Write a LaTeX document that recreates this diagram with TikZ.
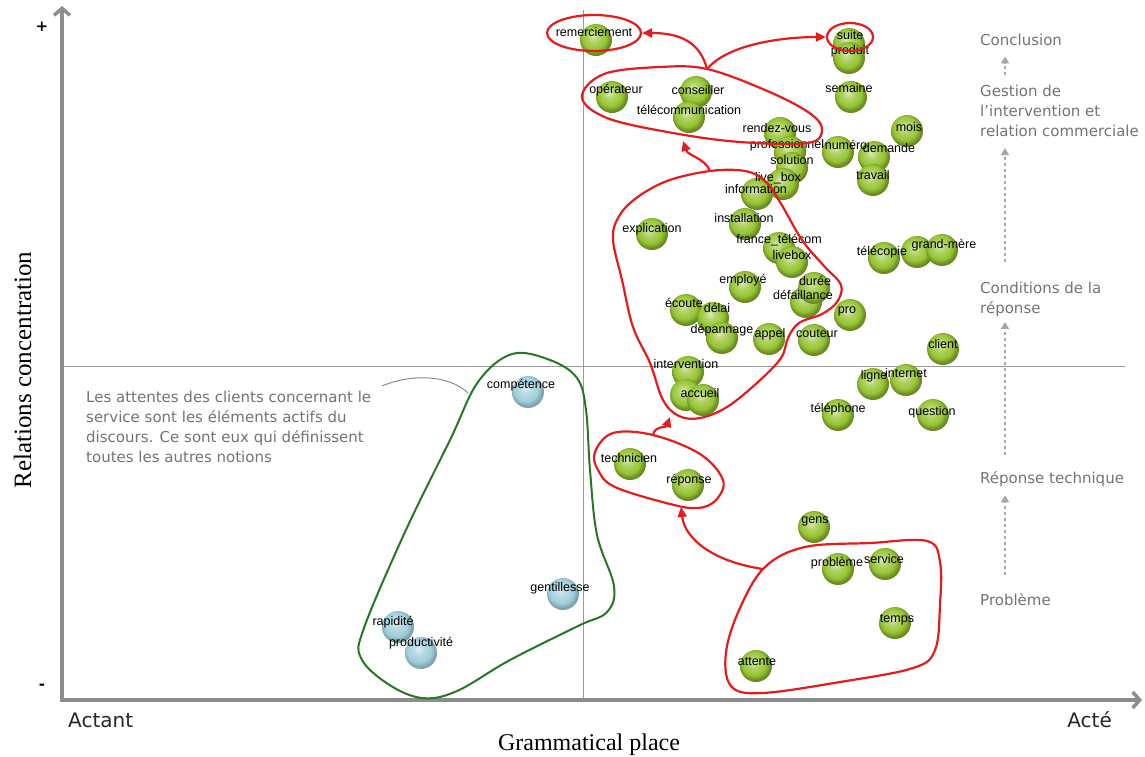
\documentclass[tikz,border=0pt]{standalone}
\usepackage{fontspec}
\setmainfont{Liberation Serif}
\newfontfamily\lblfont{Liberation Sans}
\newfontfamily\notefont{DejaVu Sans}
\usetikzlibrary{arrows.meta, shapes.geometric}

\definecolor{ballgreen}{RGB}{150,196,50}
\definecolor{ballblue}{RGB}{160,206,218}
\definecolor{grpred}{RGB}{228,28,28}
\definecolor{grpgreen}{RGB}{38,118,38}
\pgfdeclareradialshading{greenshade}{\pgfpoint{-5bp}{7bp}}{color(0bp)=(ballgreen!35!white);
  color(9bp)=(ballgreen!75!white); color(19bp)=(ballgreen); color(25bp)=(ballgreen!72!black);
  color(50bp)=(ballgreen!60!black)}
\pgfdeclareradialshading{blueshade}{\pgfpoint{-5bp}{7bp}}{color(0bp)=(ballblue!35!white);
  color(9bp)=(ballblue!75!white); color(19bp)=(ballblue); color(25bp)=(ballblue!80!black);
  color(50bp)=(ballblue!65!black)}

\begin{document}
\begin{tikzpicture}[x=1pt, y=-1pt,
  gball/.style={circle, minimum size=32pt, inner sep=0pt, shade, shading=greenshade},
  bball/.style={circle, minimum size=32pt, inner sep=0pt, shade, shading=blueshade},
  lbl/.style={font=\lblfont\fontsize{12.5}{12.5}\selectfont, inner sep=0pt},
  grp/.style={draw=grpred, line width=2.2pt},
  grparrow/.style={grpred, line width=2.2pt, -{Triangle[length=10pt,width=9pt]}},
  stage/.style={font=\notefont\fontsize{15}{20}\selectfont, text=black!55, inner sep=0pt, align=left},
  stagearrow/.style={black!35, line width=1.8pt, dash pattern=on 3pt off 3pt, -{Triangle[length=7pt,width=8pt]}},
  axlbl/.style={font=\notefont\fontsize{20}{20}\selectfont, text=black!85, inner sep=0pt}]
  \useasboundingbox (0,0) rectangle (1145,756);

  % axes
  \coordinate (o) at (62,700);
  \coordinate (ytop) at (62,6);
  \coordinate (xend) at (1142,700);
  \coordinate (vtop) at (583,10);
  \coordinate (vbot) at (583,700);
  \coordinate (hl) at (62,366);
  \coordinate (hr) at (1125,366);
  \draw[black!40, line width=0.9pt] (vtop) -- (vbot);
  \draw[black!40, line width=0.9pt] (hl) -- (hr);
  \draw[black!45, line width=3.5pt, {Straight Barb[length=7pt,width=16pt]}-{Straight Barb[length=7pt,width=16pt]}] (ytop) -- (o) -- (xend);

  \node[font=\notefont\bfseries\fontsize{15}{15}\selectfont] (plus) at (42,27) {+};
  \node[font=\notefont\bfseries\fontsize{15}{15}\selectfont] (minus) at (42,687) {-};
  \node[axlbl, anchor=base west] (actant) at (68,727) {Actant};
  \node[axlbl, anchor=base east] (acte) at (1112,727) {Acté};
  \node[font=\fontsize{24}{24}\selectfont, inner sep=0pt, anchor=base] (gplace) at (589,750) {Grammatical place};
  \node[font=\fontsize{25}{25}\selectfont, inner sep=0pt, anchor=base, rotate=90] (rconc) at (31,370) {Relations concentration};

  % balls: ball x / ball y / label x / label y / label
  \def\greenlist{596/40/594/32/remerciement, 849/44/850/35/suite, 849/58/850/51/produit,
    851/97/849/88/semaine, 612/97/616/90/opérateur, 696/92/698/90/conseiller,
    689/117/689/110/télécommunication, 907/131/909/127/mois, 780/133/777/128/rendez-vous,
    838/152/846/145/numéro, 790/152/787/145/professionnel, 874/157/889/148/demande,
    792/168/792/160/solution, 783/184/778/178/live\_box, 873/180/873/175/travail,
    757/194/756/189/information, 745/224/744/218/installation, 652/234/652/229/explication,
    779/248/779/240/france\_télécom, 792/262/792/255/livebox, 884/258/882/252/télécopie,
    917/252/917/252/, 942/250/944/245/grand-mère, 745/287/743/280/employé,
    806/302/803/295/défaillance, 814/288/815/281/durée, 850/315/847/311/pro,
    686/310/684/303/écoute, 713/318/717/308/délai, 722/338/722/330/dépannage,
    769/339/770/334/appel, 814/340/817/334/couteur, 688/372/686/364/intervention,
    686/395/686/395/, 703/400/700/393/accueil, 943/349/943/344/client,
    873/384/874/376/ligne, 906/380/906/373/internet, 838/415/838/409/téléphone,
    933/415/932/412/question, 630/464/629/458/technicien, 688/485/689/480/réponse,
    814/527/815/521/gens, 838/569/837/563/problème, 885/564/884/559/service,
    895/623/897/620/temps, 756/666/757/662/attente}
  \def\bluelist{528/392/521/385/compétence, 563/594/560/588/gentillesse,
    398/627/393/622/rapidité, 421/653/421/643/productivité}

  \foreach \bx/\by/\lx/\ly/\t [count=\i] in \greenlist
    \node[gball] (g\i) at (\bx,\by) {};
  \foreach \bx/\by/\lx/\ly/\t [count=\i] in \bluelist
    \node[bball] (b\i) at (\bx,\by) {};
  \foreach \bx/\by/\lx/\ly/\t [count=\i] in \greenlist
    \node[lbl] (gl\i) at (\lx,\ly) {\t};
  \foreach \bx/\by/\lx/\ly/\t [count=\i] in \bluelist
    \node[lbl] (bl\i) at (\lx,\ly) {\t};

  % groups
  \node[grp, ellipse, minimum width=94pt, minimum height=36pt, inner sep=0pt] (remGrp) at (594,33) {};
  \node[grp, ellipse, minimum width=46pt, minimum height=28pt, inner sep=0pt] (suiteGrp) at (850,37) {};
  \draw[grp] plot[smooth cycle, tension=0.6] coordinates {(582,97) (604,74) (660,67) (707,69)
    (765,90) (808,112) (822,129) (808,143) (740,142) (673,133) (607,118)};
  \draw[grp] plot[smooth cycle, tension=0.6] coordinates {(710,171) (745,171) (765,181) (780,202)
    (802,240) (824,266) (841,285) (837,302) (822,314) (799,323) (788,338) (781,358) (758,382)
    (727,407) (700,418) (679,416) (663,400) (650,363) (633,327) (622,280) (613,240) (618,218)
    (635,199) (667,181)};
  \draw[grp] plot[smooth cycle, tension=0.6] coordinates {(595,452) (613,433) (653,435) (700,454)
    (723,480) (716,500) (698,508) (670,504) (615,487) (598,470)};
  \draw[grp] plot[smooth cycle, tension=0.6] coordinates {(765,567) (805,547) (870,543) (927,541)
    (940,562) (940,605) (935,650) (913,668) (840,682) (762,693) (731,686) (726,652) (740,608)};
  \draw[grpgreen, line width=2pt] plot[smooth cycle, tension=0.6] coordinates {(512,354) (550,360)
    (577,378) (586,410) (590,470) (597,535) (614,586) (607,612) (578,626) (510,660) (457,691)
    (422,698) (388,684) (361,658) (364,628) (405,532) (450,440) (478,382)};

  % arrows between groups
  \coordinate (opTop) at (707,69);
  \coordinate (opBot) at (683,141);
  \coordinate (midTop) at (710,171);
  \coordinate (midBot) at (670,417);
  \coordinate (techTop) at (653,435);
  \coordinate (repBot) at (681,507);
  \coordinate (probTL) at (763,569);
  \draw[grparrow] (opTop) .. controls (700,42) and (680,33) .. (remGrp.east);
  \draw[grparrow] (opTop) .. controls (730,42) and (790,37) .. (suiteGrp.west);
  \draw[grparrow] (midTop) .. controls (705,158) and (688,156) .. (opBot);
  \draw[grparrow] (techTop) .. controls (655,425) and (666,428) .. (midBot);
  \draw[grparrow] (probTL) .. controls (715,562) and (685,540) .. (repBot);

  % note
  \node[stage, anchor=north west] (note) at (86,391) {Les attentes des clients concernant le\\service sont les éléments actifs du\\discours. Ce sont eux qui définissent\\toutes les autres notions};
  \coordinate (noteA) at (382,386);
  \coordinate (noteB) at (468,393);
  \draw[black!45, line width=1pt] (noteA) .. controls (410,374) and (448,374) .. (noteB);

  % stages
  \coordinate (ax) at (1005,0);
  \node[stage, anchor=base west] (sConcl) at (980,45) {Conclusion};
  \node[stage, anchor=north west] (sGest) at (980,85) {Gestion de\\l’intervention et\\relation commerciale};
  \node[stage, anchor=north west] (sCond) at (980,282) {Conditions de la\\réponse};
  \node[stage, anchor=base west] (sRep) at (980,483) {Réponse technique};
  \node[stage, anchor=base west] (sProb) at (980,605) {Problème};
  \draw[stagearrow, shorten <=18pt, shorten >=9pt] (sProb.north -| ax) -- (sRep.south -| ax);
  \draw[stagearrow, shorten <=16pt, shorten >=5pt] (sRep.north -| ax) -- (sCond.south -| ax);
  \draw[stagearrow, shorten <=20pt, shorten >=11pt] (sCond.north -| ax) -- (sGest.south -| ax);
  \draw[stagearrow, shorten <=10pt, shorten >=11pt] (sGest.north -| ax) -- (sConcl.south -| ax);
\end{tikzpicture}
\end{document}
